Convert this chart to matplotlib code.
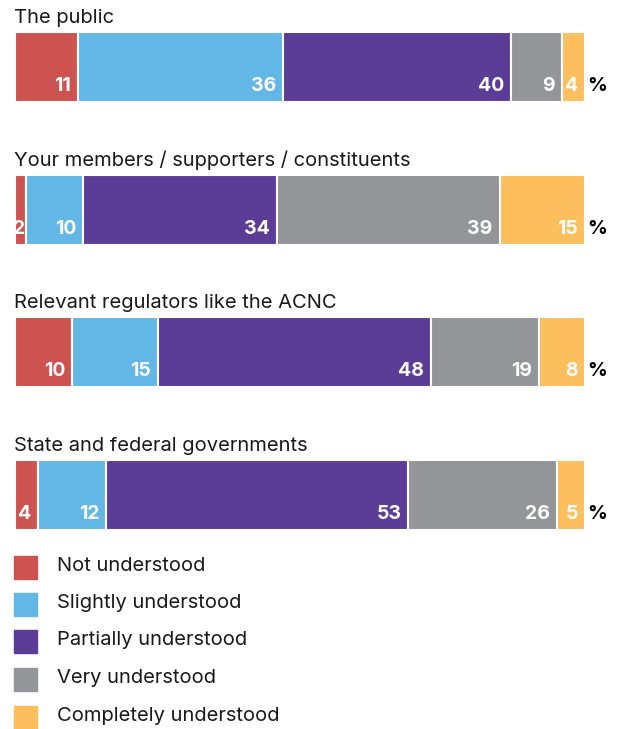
import matplotlib.pyplot as plt
import numpy as np

plt.rcParams['font.family'] = ['Inter', 'DejaVu Sans']

groups = ["The public",
          "Your members / supporters / constituents",
          "Relevant regulators like the ACNC",
          "State and federal governments"]
levels = ["Not understood", "Slightly understood", "Partially understood",
          "Very understood", "Completely understood"]
not_understood = [11, 2, 10, 4]
slightly = [36, 10, 15, 12]
partially = [40, 34, 48, 53]
very = [9, 39, 19, 26]
completely = [4, 15, 8, 5]

colors = ["#CD5351", "#63B7E7", "#5B3C96", "#939598", "#FDBF5E"]

fig = plt.figure(figsize=(6.17, 7.29), dpi=100)
W, H = 617, 729
# axes spans the bar area: x 0..100 percent, y one row per group
ax = fig.add_axes([15 / W, 1 - 545 / H, 570 / W, 545 / H])
step = 142.7
ax.set_xlim(0, 100)
ax.set_ylim((545 - 67) / step, -67 / step)
ax.axis('off')
px_per_unit = 570 / 100

series = [not_understood, slightly, partially, very, completely]
ypos = np.arange(len(groups))
left = np.zeros(len(groups))
bar_h = 70 / step
for vals, c in zip(series, colors):
    vals = np.array(vals)
    ax.barh(ypos, vals, left=left, height=bar_h, color=c,
            edgecolor='white', linewidth=1.5)
    for y, l, v in zip(ypos, left, vals):
        # keep the label inside very thin segments
        pad = min(7, v * px_per_unit - 10)
        ax.annotate(str(v), xy=(l + v, y + bar_h / 2), xytext=(-pad, 7),
                    textcoords='offset pixels', ha='right', va='bottom',
                    color='white', fontsize=14, fontweight='bold',
                    annotation_clip=False)
    left = left + vals

for y, g in zip(ypos, groups):
    ax.annotate(g, xy=(0, y - bar_h / 2), xytext=(-1, 5),
                textcoords='offset pixels', ha='left', va='bottom',
                fontsize=14.5, color='#1a1a1a')
    ax.annotate('%', xy=(100, y + bar_h / 2), xytext=(2, 7),
                textcoords='offset pixels', ha='left', va='bottom',
                fontsize=14, fontweight='bold', color='black')

# legend squares with labels underneath the bars
leg_y = [567, 604, 641, 679, 717]
for yy, lab, c in zip(leg_y, levels, colors):
    fig.patches.append(plt.Rectangle((14 / W, 1 - (yy + 11.5) / H), 23 / W, 23 / H,
                                     transform=fig.transFigure, color=c))
    fig.text(57 / W, 1 - (yy - 1) / H, lab, ha='left', va='center',
             fontsize=14.5, color='#1a1a1a')

fig.savefig("out.png", dpi=100)
